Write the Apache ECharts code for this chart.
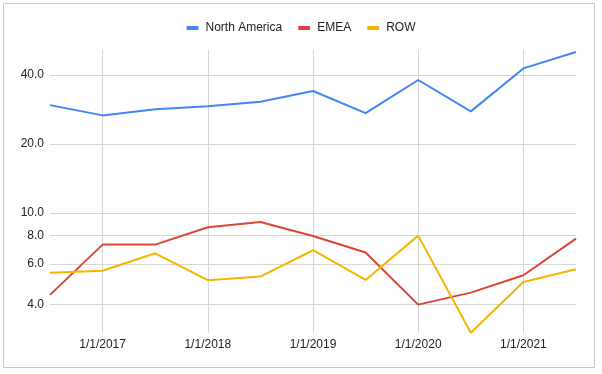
<!DOCTYPE html>
<html><head><meta charset="utf-8">
<script src="https://cdn.jsdelivr.net/npm/echarts@6/dist/echarts.min.js"></script>
<style>html,body{margin:0;padding:0;background:#fff}#c{width:602px;height:374px}</style>
</head><body><div id="c"></div>
<script>
const categories = ['7/1/2016','1/1/2017','7/1/2017','1/1/2018','7/1/2018','1/1/2019','7/1/2019','1/1/2020','7/1/2020','1/1/2021','7/1/2021'];
const northAmerica = [29.6, 26.7, 28.4, 29.3, 30.6, 34.1, 27.3, 38.1, 27.8, 42.8, 50.5];
const emea = [4.40, 7.29, 7.29, 8.68, 9.15, 7.95, 6.73, 3.99, 4.50, 5.36, 7.74];
const row = [5.50, 5.61, 6.68, 5.10, 5.29, 6.89, 5.11, 7.98, 3.01, 5.01, 5.69];
const yTicks = [4, 6, 8, 10, 20, 40];
const seriesNames = ['North America', 'EMEA', 'ROW'];

const chart = echarts.init(document.getElementById('c'));
const mk = (name, data, color) => ({
  name, type: 'line', data, symbol: 'none', smooth: false,
  lineStyle: { color, width: 2 }, itemStyle: { color }
});
chart.setOption({
  animation: false,
  textStyle: { fontFamily: '"Liberation Sans", Arial, sans-serif' },
  graphic: [{ type: 'rect', shape: { x: 3.5, y: 3.5, width: 591, height: 364 },
    style: { fill: 'none', stroke: '#c8c8c8', lineWidth: 1 }, silent: true }],
  legend: {
    data: seriesNames, top: 17, left: 'center', itemWidth: 12, itemHeight: 4, itemGap: 16,
    icon: 'roundRect',
    textStyle: { fontSize: 12, color: '#222', padding: [0, 0, 0, 2] }
  },
  grid: { left: 50, right: 26, top: 50, bottom: 41, containLabel: false },
  xAxis: {
    type: 'category', data: categories, boundaryGap: false,
    axisLine: { show: false }, axisTick: { show: false },
    axisLabel: { interval: (i) => i % 2 === 1, color: '#222', fontSize: 12, margin: 6 },
    splitLine: { show: true, interval: (i) => i % 2 === 1, lineStyle: { color: '#d6d6d6', width: 1 } }
  },
  yAxis: {
    type: 'log', logBase: 10, min: 3.0, max: 51.5,
    axisLine: { show: false },
    axisTick: { show: false, customValues: yTicks },
    axisLabel: { customValues: yTicks, color: '#222', fontSize: 12, margin: 6,
      formatter: (v) => Number(v).toFixed(1) },
    splitLine: { show: true, lineStyle: { color: '#d6d6d6', width: 1 } }
  },
  series: [
    mk(seriesNames[0], northAmerica, '#4285F4'),
    mk(seriesNames[1], emea, '#DB4437'),
    mk(seriesNames[2], row, '#F4B400')
  ]
});
</script></body></html>
